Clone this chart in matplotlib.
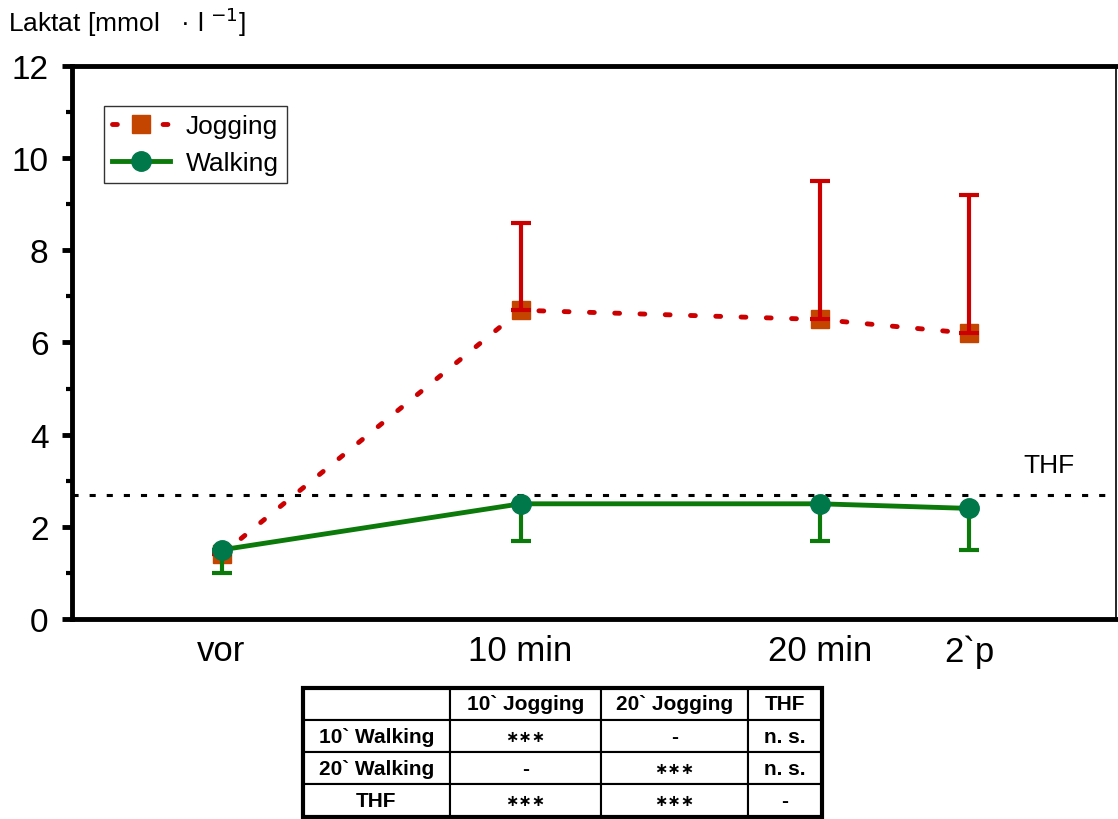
import matplotlib
matplotlib.use("Agg")
import matplotlib.pyplot as plt
from matplotlib.ticker import MultipleLocator

plt.rcParams['font.family'] = ['Liberation Sans', 'DejaVu Sans']

# Messzeitpunkte
zeitpunkte = ["vor", "10 min", "20 min", "2`p"]
x_pos = [0, 1, 2, 2.5]

# Laktat-Mittelwerte und Fehlerbalken (Jogging nach oben, Walking nach unten)
jogging = [1.4, 6.7, 6.5, 6.2]
jogging_oben = [1.4, 8.6, 9.5, 9.2]
walking = [1.5, 2.5, 2.5, 2.4]
walking_unten = [1.0, 1.7, 1.7, 1.5]
thf = 2.7

# Signifikanztabelle
tabelle = [
    ["", "10` Jogging", "20` Jogging", "THF"],
    ["10` Walking", "∗∗∗", "-", "n. s."],
    ["20` Walking", "-", "∗∗∗", "n. s."],
    ["THF", "∗∗∗", "∗∗∗", "-"],
]

rot = "#CC0000"
orange = "#C44500"
gruen = "#0B7A0B"
gruen_punkt = "#00784A"

fig = plt.figure(figsize=(11.18, 8.2), dpi=100)
ax = fig.add_axes([0.0644, 0.2439, 0.9336, 0.6744])

# Jogging
ax.plot(x_pos, jogging, ls=(0, (1.0, 4.2)), color=rot, lw=3.5, dash_capstyle="round",
        marker="s", ms=13, mfc=orange, mec=orange, label="Jogging", zorder=3)
ax.errorbar(x_pos, jogging,
            yerr=[[0] * 4, [o - m for o, m in zip(jogging_oben, jogging)]],
            fmt="none", ecolor=rot, elinewidth=3, capsize=7.2, capthick=3, zorder=4)

# Walking
ax.errorbar(x_pos, walking,
            yerr=[[m - u for m, u in zip(walking, walking_unten)], [0] * 4],
            fmt="none", ecolor=gruen, elinewidth=3, capsize=7.2, capthick=3, zorder=5)
ax.plot(x_pos, walking, ls="-", color=gruen, lw=3.5, marker="o", ms=14,
        mfc=gruen_punkt, mec=gruen_punkt, label="Walking", zorder=6)

# Schwelle
ax.axhline(thf, color="black", lw=2.2, ls=(0, (2.0, 3.6)), zorder=2)
ax.text(2.766, thf + 0.65, "THF", fontsize=19, ha="center", va="center")

ax.set_xlim(-0.5, 2.99)
ax.set_ylim(0, 12)
ax.set_xticks(x_pos)
ax.set_xticklabels(zeitpunkte, fontsize=25)
ax.tick_params(axis="x", length=0, pad=11)
ax.yaxis.set_major_locator(MultipleLocator(2))
ax.yaxis.set_minor_locator(MultipleLocator(1))
ax.tick_params(axis="y", which="major", labelsize=24, length=7, width=3.5, pad=10)
ax.tick_params(axis="y", which="minor", length=4, width=3)

for s in ["left", "bottom", "top"]:
    ax.spines[s].set_linewidth(3.5)
ax.spines["right"].set_linewidth(1.2)

leg = ax.legend(loc="upper left", bbox_to_anchor=(0.0307, 0.9277), borderaxespad=0,
                fontsize=19, frameon=True, fancybox=False, edgecolor="black",
                handlelength=2.2, borderpad=0.3, labelspacing=0.5, handletextpad=0.6)
leg.get_frame().set_linewidth(1.0)

fig.text(0.007, 0.973, "Laktat [mmol   · l $^{-1}$]", fontsize=19, ha="left", va="center")

# Tabelle unter dem Diagramm
tax = fig.add_axes([0.271, 0.003, 0.464, 0.157])
tax.axis("off")
breiten = [147, 151, 147, 74]
ges = sum(breiten)
tab = tax.table(cellText=tabelle, cellLoc="center", loc="center",
                colWidths=[b / ges for b in breiten], bbox=[0, 0, 1, 1])
tab.auto_set_font_size(False)
for (r, c), cell in tab.get_celld().items():
    cell.set_linewidth(1.5)
    cell.set_edgecolor("black")
    txt = cell.get_text()
    txt.set_fontsize(11.5 if "∗" in txt.get_text() else 15)
    txt.set_fontweight("bold")
tax.add_patch(plt.Rectangle((0, 0), 1, 1, transform=tax.transAxes, fill=False,
                            lw=3, ec="black", clip_on=False, zorder=10))

fig.savefig("out.png", dpi=100)
